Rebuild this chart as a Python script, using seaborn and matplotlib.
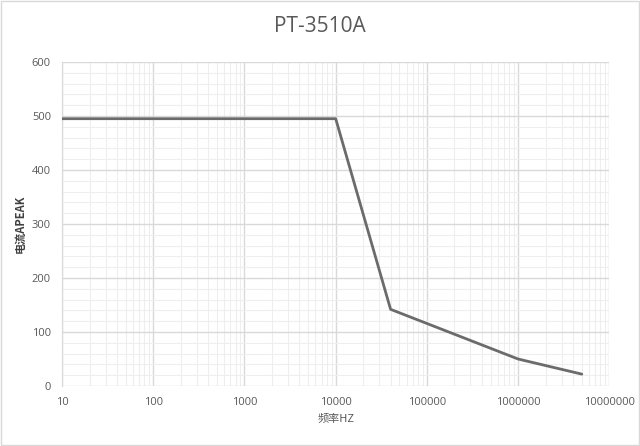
import pandas as pd
import matplotlib
matplotlib.use("Agg")
import matplotlib.pyplot as plt
import matplotlib.ticker as mticker
from matplotlib.patches import Rectangle
import seaborn as sns

# values
freq_hz = [10, 10000, 40000, 1000000, 5000000]
current_apeak = [495, 495, 142, 50, 22]
x_ticks = [10, 100, 1000, 10000, 100000, 1000000, 10000000]
y_ticks = [0, 100, 200, 300, 400, 500, 600]


def main():
    sns.set_style("white")
    plt.rcParams["font.family"] = ["Open Sans", "Noto Sans CJK SC", "DejaVu Sans"]

    df = pd.DataFrame({"freq": freq_hz, "current": current_apeak})

    fig = plt.figure(figsize=(6.4, 4.46), dpi=100)
    ax = fig.add_axes([0.097, 0.1345, 0.855, 0.7265])

    sns.lineplot(data=df, x="freq", y="current", ax=ax, color="#6b6b6b",
                 linewidth=2.0, zorder=3)

    ax.set_xscale("log")
    ax.set_xlim(10, 1e7)
    ax.set_ylim(0, 600)
    ax.set_xticks(x_ticks)
    ax.xaxis.set_major_formatter(mticker.FuncFormatter(lambda v, p: f"{int(round(v))}"))
    ax.xaxis.set_minor_locator(mticker.LogLocator(base=10, subs=range(2, 10)))
    ax.xaxis.set_minor_formatter(mticker.NullFormatter())
    ax.set_yticks(y_ticks)
    ax.yaxis.set_minor_locator(mticker.MultipleLocator(20))

    ax.grid(which="major", color="#d9d9d9", linewidth=1.0)
    ax.grid(which="minor", color="#eeeeee", linewidth=0.8)
    ax.tick_params(which="both", length=0, labelsize=8, colors="#595959", pad=8)
    for side in ["top", "right", "bottom"]:
        ax.spines[side].set_visible(False)
    ax.spines["left"].set_color("#d9d9d9")

    ax.set_xlabel("频率HZ", fontsize=8, color="#595959",
                  family=["Noto Sans CJK SC", "DejaVu Sans"], labelpad=4)
    ax.set_ylabel("电流APEAK", fontsize=8, color="#404040", fontweight="bold",
                  family=["Noto Sans CJK SC", "DejaVu Sans"], labelpad=4)
    fig.suptitle("PT-3510A", y=0.965, fontsize=15, color="#595959")

    fig.patches.append(Rectangle((0.002, 0.003), 0.996, 0.994, transform=fig.transFigure,
                                 fill=False, edgecolor="#d9d9d9", linewidth=1.0))

    fig.savefig("out.png", dpi=100)
    plt.close(fig)


if __name__ == "__main__":
    main()
